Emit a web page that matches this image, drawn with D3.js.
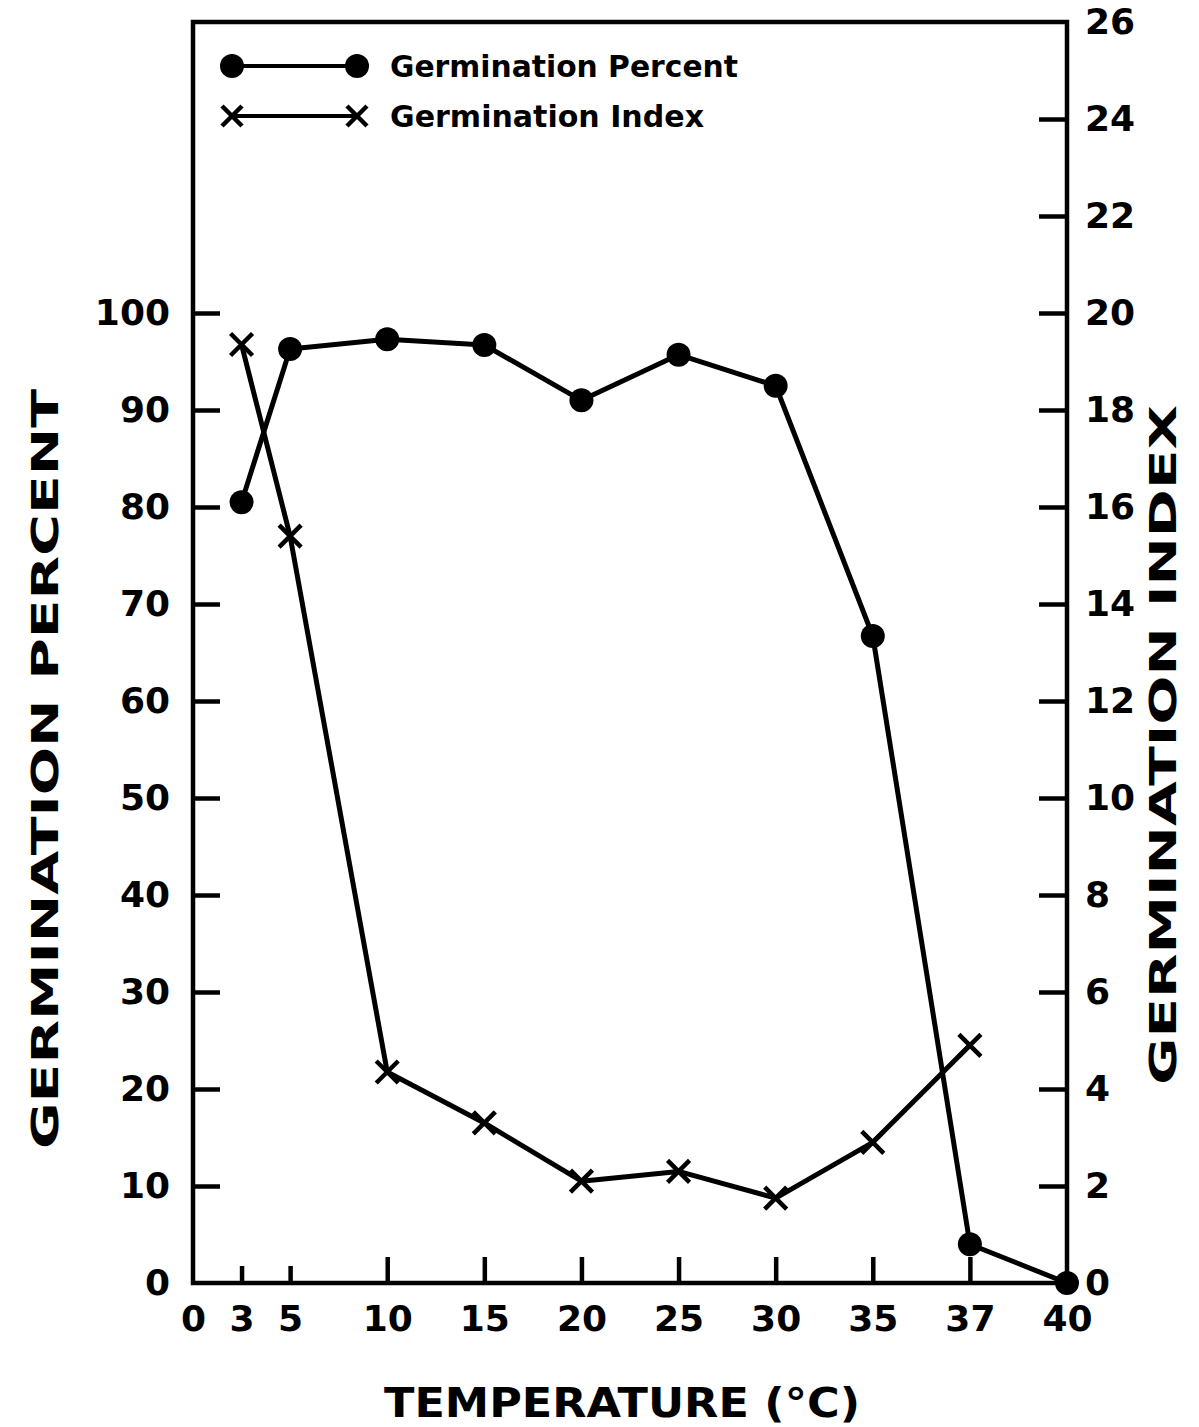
<!DOCTYPE html>
<html>
<head>
<meta charset="utf-8">
<script src="https://cdn.jsdelivr.net/npm/d3@7"></script>
<style>
  html, body { margin: 0; padding: 0; background: #fff; }
  svg { display: block; }
  text { font-family: "DejaVu Sans", sans-serif; font-weight: bold; fill: #000; }
</style>
</head>
<body>
<svg id="chart" width="1199" height="1427"></svg>
<script>
// Temperatures tested (°C) and the two measured responses
const temperatures = [3, 5, 10, 15, 20, 25, 30, 35, 37, 40];
const germinationPercent = [80.5, 96.3, 97.3, 96.7, 91.0, 95.7, 92.5, 66.7, 4.0, 0];
const germinationIndex = [19.35, 15.4, 4.35, 3.3, 2.1, 2.3, 1.75, 2.9, 4.9, null];

// Axis tick values
const xTicks = [0, 3, 5, 10, 15, 20, 25, 30, 35, 37, 40];
const percentTicks = [0, 10, 20, 30, 40, 50, 60, 70, 80, 90, 100];
const indexTicks = [0, 2, 4, 6, 8, 10, 12, 14, 16, 18, 20, 22, 24, 26];

const legendLabels = ["Germination Percent", "Germination Index"];

const svg = d3.select("#chart");
const m = { left: 193, right: 1067, top: 22, bottom: 1283 };

// The temperature axis is laid out in evenly spaced slots (3 °C sits half a slot in)
const slotOf = (i) => (i === 0 ? 0 : i === 1 ? 0.5 : i - 1);
const nSlots = slotOf(xTicks.length - 1);
const x = d3.scaleLinear()
  .domain(xTicks)
  .range(xTicks.map((_, i) => m.left + (m.right - m.left) * slotOf(i) / nSlots));

const yP = d3.scaleLinear().domain([0, 130]).range([m.bottom, m.top]);
const yI = d3.scaleLinear().domain([0, 26]).range([m.bottom, m.top]);

const strokeW = 4.5;

// Left axis: ticks point inward
const leftAxis = d3.axisLeft(yP).tickValues(percentTicks).tickSize(-27).tickPadding(23);
const gL = svg.append("g").attr("transform", `translate(${m.left},0)`).call(leftAxis);

// Right axis
const rightAxis = d3.axisRight(yI).tickValues(indexTicks).tickSize(-28).tickPadding(18);
const gR = svg.append("g").attr("transform", `translate(${m.right},0)`).call(rightAxis);

// Bottom axis: ticks point upward, shorter for 3 and 5
const bottomAxis = d3.axisBottom(x).tickValues(xTicks).tickSize(-26).tickPadding(22);
const gB = svg.append("g").attr("transform", `translate(0,${m.bottom})`).call(bottomAxis);
gB.selectAll(".tick line").attr("y2", d => (d === 3 || d === 5) ? -17 : (d === 0 || d === 40 ? 0 : -26));

[gL, gR, gB].forEach(g => {
  g.select(".domain").remove();
  g.selectAll(".tick line").attr("stroke", "#000").attr("stroke-width", strokeW);
  g.selectAll(".tick text").attr("font-size", 36).attr("font-family", "DejaVu Sans, sans-serif")
    .attr("font-weight", "bold").attr("fill", "#000");
});
gL.selectAll(".tick").filter(d => d === 0).select("line").remove();
gR.selectAll(".tick").filter(d => d === 0 || d === 26).select("line").remove();
gB.selectAll(".tick text").attr("dy", "0.71em");

// Frame
svg.append("rect")
  .attr("x", m.left).attr("y", m.top)
  .attr("width", m.right - m.left).attr("height", m.bottom - m.top)
  .attr("fill", "none").attr("stroke", "#000").attr("stroke-width", strokeW);

// Series lines
const pctData = temperatures.map((t, i) => ({ t, v: germinationPercent[i] }));
const idxData = temperatures.map((t, i) => ({ t, v: germinationIndex[i] })).filter(d => d.v !== null);

const line = (ys) => d3.line().x(d => x(d.t)).y(d => ys(d.v));

svg.append("path").datum(pctData)
  .attr("d", line(yP)).attr("fill", "none").attr("stroke", "#000")
  .attr("stroke-width", 5).attr("stroke-linejoin", "round");
svg.append("path").datum(idxData)
  .attr("d", line(yI)).attr("fill", "none").attr("stroke", "#000")
  .attr("stroke-width", 5).attr("stroke-linejoin", "round");

// Markers
const cross = (g, cx, cy, s) => {
  g.append("path")
    .attr("d", `M${cx - s},${cy - s}L${cx + s},${cy + s}M${cx - s},${cy + s}L${cx + s},${cy - s}`)
    .attr("stroke", "#000").attr("stroke-width", 4.5).attr("fill", "none");
};

svg.append("g").selectAll("circle").data(pctData).join("circle")
  .attr("cx", d => x(d.t)).attr("cy", d => yP(d.v)).attr("r", 12).attr("fill", "#000");

const gx = svg.append("g");
idxData.forEach(d => cross(gx, x(d.t), yI(d.v), 11));

// Legend
const leg = svg.append("g");
const lx1 = 232, lx2 = 357, ly = [66, 116];
leg.append("line").attr("x1", lx1).attr("x2", lx2).attr("y1", ly[0]).attr("y2", ly[0])
  .attr("stroke", "#000").attr("stroke-width", 4);
leg.append("circle").attr("cx", lx1).attr("cy", ly[0]).attr("r", 12);
leg.append("circle").attr("cx", lx2).attr("cy", ly[0]).attr("r", 12);
leg.append("line").attr("x1", lx1).attr("x2", lx2).attr("y1", ly[1]).attr("y2", ly[1])
  .attr("stroke", "#000").attr("stroke-width", 4);
cross(leg, lx1, ly[1], 10);
cross(leg, lx2, ly[1], 10);
leg.append("text").attr("x", 390).attr("y", ly[0] + 11).attr("font-size", 31)
  .attr("textLength", 348).attr("lengthAdjust", "spacingAndGlyphs").text(legendLabels[0]);
leg.append("text").attr("x", 390).attr("y", ly[1] + 11).attr("font-size", 31)
  .attr("textLength", 314).attr("lengthAdjust", "spacingAndGlyphs").text(legendLabels[1]);

// Axis titles
svg.append("text")
  .attr("transform", "translate(58,769) rotate(-90)")
  .attr("text-anchor", "middle").attr("font-size", 38)
  .attr("textLength", 760).attr("lengthAdjust", "spacingAndGlyphs")
  .text("GERMINATION PERCENT");
svg.append("text")
  .attr("transform", "translate(1176,745) rotate(-90)")
  .attr("text-anchor", "middle").attr("font-size", 37)
  .attr("textLength", 680).attr("lengthAdjust", "spacingAndGlyphs")
  .text("GERMINATION INDEX");
svg.append("text")
  .attr("x", 622).attr("y", 1417)
  .attr("text-anchor", "middle").attr("font-size", 40)
  .attr("textLength", 476).attr("lengthAdjust", "spacingAndGlyphs")
  .text("TEMPERATURE (°C)");
</script>
</body>
</html>
